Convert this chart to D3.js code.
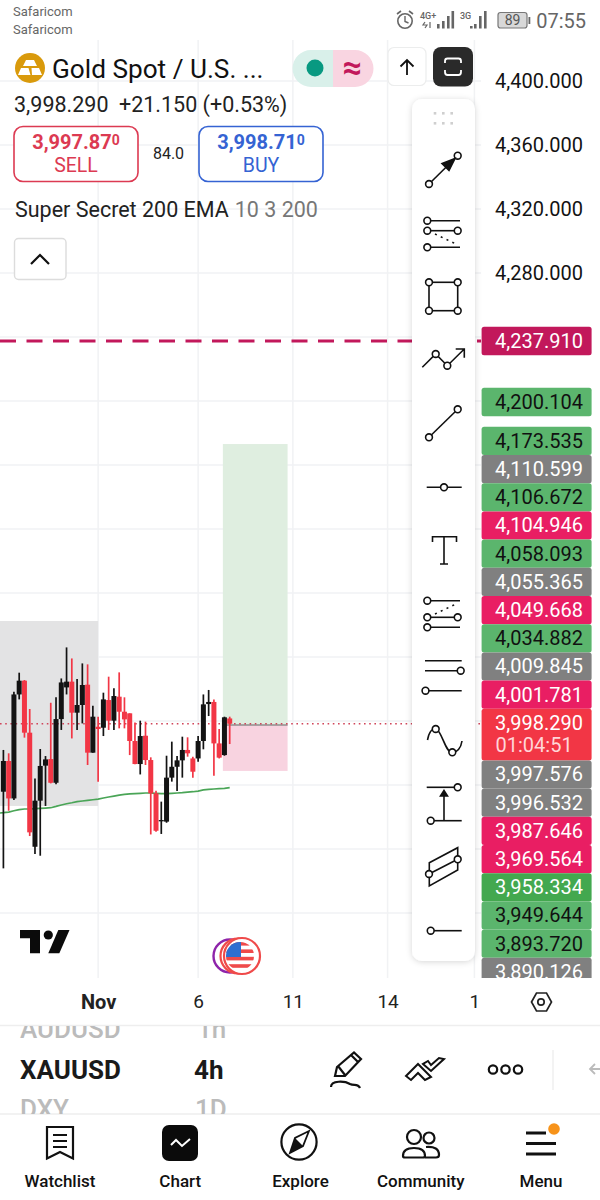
<!DOCTYPE html>
<html>
<head>
<meta charset="utf-8">
<script src="https://cdnjs.cloudflare.com/ajax/libs/d3/7.8.5/d3.min.js"></script>
<style>
html, body { margin: 0; padding: 0; background: #fff; }
svg { display: block; font-family: Roboto, sans-serif; }
</style>
</head>
<body>
<svg id="chart" width="600" height="1200"></svg>
<script>
// candles
var candleOpen = [3955.8,3975.0,3951.6,4016.6,4025.2,3992.7,3921.4,3950.2,3972.1,3976.2,3961.4,4001.2,4021.0,4024.6,4005.2,4010.0,4022.7,3980.2,3996.4,3995.8,4013.1,4000.2,4015.2,4005.8,4004.8,3987.5,3973.1,3990.8,3975.6,3954.8,3937.3,3937.1,3964.6,3971.4,3975.4,3981.9,3976.6,3976.6,3987.5,4010.6,4011.9,3986.0,3978.7,4001.6];
var candleHigh = [3981.9,3979.8,4018.3,4030.2,4025.6,4007.5,3964.1,3982.5,3978.1,4011.4,4014.8,4026.6,4046.0,4039.1,4026.2,4036.0,4035.4,4009.6,4002.7,4017.7,4027.7,4020.4,4030.4,4014.8,4004.8,3999.1,4000.2,3999.6,3977.3,3956.4,3949.6,3978.3,3987.1,3978.1,3990.2,3989.8,3977.7,3990.6,4016.6,4019.4,4013.5,3995.0,4002.7,4002.7];
var candleLow = [3907.9,3943.9,3950.6,4013.5,3989.6,3928.1,3916.9,3915.8,3946.9,3961.0,3960.4,3994.4,4016.6,3989.1,3994.4,3998.5,3972.5,3980.2,3962.1,3990.6,3994.4,3994.4,3995.4,3995.4,3978.7,3972.9,3966.6,3972.5,3929.1,3930.8,3929.4,3936.4,3962.1,3956.2,3964.6,3977.7,3964.6,3974.6,3982.3,4003.1,3965.8,3976.6,3978.3,3985.6];
var candleClose = [3975.0,3951.6,4016.6,4025.2,3992.7,3930.4,3950.2,3971.9,3976.0,3961.4,4001.2,4024.1,4024.6,4005.2,4010.0,4022.5,3980.2,4002.7,3995.0,4013.5,4000.2,4015.6,4005.8,4001.0,3987.5,3973.1,3990.6,3975.6,3954.8,3931.4,3938.1,3964.6,3971.4,3975.4,3981.9,3979.8,3968.3,3987.5,4010.4,4011.9,3986.0,3977.1,4002.3,3998.29];
// first value sits one bar left of the first candle
var emaValues = [3942.4,3942.7,3943.1,3943.9,3944.6,3945.0,3945.0,3945.2,3945.4,3945.6,3945.8,3946.6,3947.5,3948.3,3948.9,3949.6,3950.0,3950.4,3950.8,3951.2,3951.9,3952.5,3953.1,3953.7,3954.1,3954.4,3954.6,3954.8,3955.0,3955.0,3954.8,3954.6,3954.6,3954.8,3955.0,3955.2,3955.6,3955.8,3956.2,3956.9,3957.3,3957.5,3957.7,3957.9,3958.334];

var priceTicks = [4400, 4360, 4320, 4280];
var gridPrices = [4400,4360,4320,4280,4240,4200,4160,4120,4080,4040,4000,3960,3920,3880];
var timeTicks = [18, 37, 55, 73, 89.5];
var timeLabels = ["Nov", "6", "11", "14", "1"];

var alertPrice = 4237.91;
var lastPrice = 3998.29;
var targetPrice = 4200.104;
var timerText = "01:04:51";

// stacked price labels below the target label, top to bottom
var badgeValues = [4173.535,4110.599,4106.672,4104.946,4058.093,4055.365,4049.668,4034.882,4009.845,4001.781,3998.29,3997.576,3996.532,3987.646,3969.564,3958.334,3949.644,3893.72,3890.126];
var badgeKinds = ["green","grey","green","pink","green","grey","pink","green","grey","pink","last","grey","grey","pink","pink","ema","green","green","grey"];

// drawn boxes on the chart
var grayBoxPrices = [4062.5, 3946.9];
var grayBoxTimes = [-2, 18];
var positionTimes = [41.7, 54];
var positionPrices = [4173.1, 3997.5, 3968.8];

var navLabels = ["Watchlist", "Chart", "Explore", "Community", "Menu"];

var svg = d3.select("#chart");
var fmt = d3.format(",.3f");
var ink = "#131313";

var y = d3.scaleLinear().domain([4400, 3880]).range([81, 913]);
var x = d3.scaleLinear().domain([0, 43]).range([3.4, 229.7]);

var badgeColor = {green: "#5bb56d", grey: "#808080", pink: "#e91e63", last: "#f23645", ema: "#43a84f"};
var badgeText = {green: "#111", grey: "#fff", pink: "#fff", last: "#fff", ema: "#fff"};

var defs = svg.append("defs");
defs.append("clipPath").attr("id", "plot").append("rect")
    .attr("x", 0).attr("y", 40).attr("width", 481).attr("height", 938);
defs.append("clipPath").attr("id", "scale").append("rect")
    .attr("x", 481).attr("y", 40).attr("width", 119).attr("height", 938);
defs.append("clipPath").attr("id", "prev").append("rect")
    .attr("x", 0).attr("y", 1026).attr("width", 300).attr("height", 14);
defs.append("clipPath").attr("id", "next").append("rect")
    .attr("x", 0).attr("y", 1099).attr("width", 300).attr("height", 15);
defs.append("clipPath").attr("id", "flag").append("circle")
    .attr("cx", 240).attr("cy", 956).attr("r", 14);
var shadow = defs.append("filter").attr("id", "shadow")
    .attr("x", "-30%").attr("y", "-5%").attr("width", "160%").attr("height", "110%");
shadow.append("feDropShadow").attr("dx", 0).attr("dy", 1).attr("stdDeviation", 3)
    .attr("flood-color", "#000").attr("flood-opacity", 0.16);

// plot area
var plot = svg.append("g").attr("clip-path", "url(#plot)");

plot.selectAll(".grid-h").data(gridPrices).enter().append("line")
    .attr("class", "grid-h")
    .attr("x1", 0).attr("x2", 481)
    .attr("y1", function (d) { return y(d); })
    .attr("y2", function (d) { return y(d); })
    .attr("stroke", "#f1f2f4").attr("stroke-width", 1.5);

plot.selectAll(".grid-v").data(timeTicks).enter().append("line")
    .attr("class", "grid-v")
    .attr("x1", function (d) { return x(d); })
    .attr("x2", function (d) { return x(d); })
    .attr("y1", 40).attr("y2", 978)
    .attr("stroke", "#f1f2f4").attr("stroke-width", 1.5);

plot.append("rect")
    .attr("x", x(grayBoxTimes[0]))
    .attr("y", y(grayBoxPrices[0]))
    .attr("width", x(grayBoxTimes[1]) - x(grayBoxTimes[0]))
    .attr("height", y(grayBoxPrices[1]) - y(grayBoxPrices[0]))
    .attr("fill", "#e3e3e4");

plot.append("rect")
    .attr("x", x(positionTimes[0]))
    .attr("y", y(positionPrices[0]))
    .attr("width", x(positionTimes[1]) - x(positionTimes[0]))
    .attr("height", y(positionPrices[1]) - y(positionPrices[0]))
    .attr("fill", "#dfeee0");

plot.append("rect")
    .attr("x", x(positionTimes[0]))
    .attr("y", y(positionPrices[1]))
    .attr("width", x(positionTimes[1]) - x(positionTimes[0]))
    .attr("height", y(positionPrices[2]) - y(positionPrices[1]))
    .attr("fill", "#f8d3e0");

plot.append("line")
    .attr("x1", x(positionTimes[0])).attr("x2", x(positionTimes[1]))
    .attr("y1", y(positionPrices[1])).attr("y2", y(positionPrices[1]))
    .attr("stroke", "#8f8f8f").attr("stroke-width", 1.5);

plot.append("line")
    .attr("x1", 0).attr("x2", 481)
    .attr("y1", y(lastPrice)).attr("y2", y(lastPrice))
    .attr("stroke", "#d0455a").attr("stroke-width", 1.4)
    .attr("stroke-dasharray", "1.6 3.6");

plot.append("line")
    .attr("x1", 0).attr("x2", 481)
    .attr("y1", y(alertPrice) + 0.7).attr("y2", y(alertPrice) + 0.7)
    .attr("stroke", "#c2185b").attr("stroke-width", 3)
    .attr("stroke-dasharray", "16 10.5");

plot.append("path")
    .datum(emaValues)
    .attr("fill", "none")
    .attr("stroke", "#4aa557")
    .attr("stroke-width", 1.7)
    .attr("d", d3.line()
        .x(function (d, i) { return x(i - 1); })
        .y(function (d) { return y(d); }));

var candles = plot.selectAll(".candle").data(candleOpen).enter().append("g").attr("class", "candle");

function candleColor(d, i) {
    return candleClose[i] >= d ? ink : "#f23645";
}

candles.append("line")
    .attr("x1", function (d, i) { return x(i); })
    .attr("x2", function (d, i) { return x(i); })
    .attr("y1", function (d, i) { return y(candleHigh[i]); })
    .attr("y2", function (d, i) { return y(candleLow[i]); })
    .attr("stroke", candleColor)
    .attr("stroke-width", 1.7);

candles.append("rect")
    .attr("x", function (d, i) { return x(i) - 2.5; })
    .attr("width", 5)
    .attr("y", function (d, i) { return y(Math.max(d, candleClose[i])); })
    .attr("height", function (d, i) { return Math.max(1.3, Math.abs(y(d) - y(candleClose[i]))); })
    .attr("fill", candleColor);

// TradingView mark and news flag
var logo = svg.append("g").attr("fill", "#0b0b0b");
logo.append("path").attr("d", "M20 930H40V953.3H30V938.3H20Z");
logo.append("circle").attr("cx", 48.3).attr("cy", 935).attr("r", 4.6);
logo.append("path").attr("d", "M58.3 930H69.5L59.3 953.3H48.3Z");

svg.append("circle").attr("cx", 230).attr("cy", 956).attr("r", 16.5).attr("fill", "#fff").attr("stroke", "#8e24aa").attr("stroke-width", 2.4);
svg.append("circle").attr("cx", 238).attr("cy", 956).attr("r", 17.5).attr("fill", "#fff").attr("stroke", "#ef4a4a").attr("stroke-width", 2.2);
svg.append("circle").attr("cx", 242).attr("cy", 956).attr("r", 18).attr("fill", "#fff").attr("stroke", "#ef4a4a").attr("stroke-width", 2.2);
var flag = svg.append("g").attr("clip-path", "url(#flag)");
flag.append("rect").attr("x", 226).attr("y", 942).attr("width", 28).attr("height", 28).attr("fill", "#fff");
flag.selectAll(".stripe").data([0, 1, 2, 3]).enter().append("rect")
    .attr("x", 226).attr("width", 28).attr("height", 3.6)
    .attr("y", function (d) { return 942 + d * 7.4; })
    .attr("fill", "#ef4a4a");
flag.append("rect").attr("x", 226).attr("y", 942).attr("width", 15).attr("height", 15).attr("fill", "#2f6fd0");

// price scale
svg.append("g")
    .attr("transform", "translate(481,0)")
    .call(d3.axisRight(y).tickValues(priceTicks).tickFormat(fmt).tickSize(0).tickPadding(14))
    .call(function (g) { g.select(".domain").remove(); })
    .selectAll("text")
    .attr("font-family", "Roboto, sans-serif")
    .attr("font-size", 20)
    .attr("fill", ink);

var priceScale = svg.append("g").attr("clip-path", "url(#scale)");

function badge(top, h, fill, label, color) {
    priceScale.append("rect")
        .attr("x", 481.6).attr("y", top).attr("width", 110).attr("height", h)
        .attr("rx", 2.5).attr("fill", fill);
    priceScale.append("text")
        .attr("x", 583).attr("y", top + 21)
        .attr("text-anchor", "end").attr("font-size", 20)
        .attr("fill", color).text(label);
}

badge(y(alertPrice) - 13.5, 28.5, "#c2185b", fmt(alertPrice), "#fff");
badge(y(targetPrice) - 13, 28.5, "#5bb56d", fmt(targetPrice), "#111");

var badgeTop = 426.8;
badgeValues.forEach(function (v, i) {
    var kind = badgeKinds[i];
    var h = kind === "last" ? 51.6 : 28.2;
    badge(badgeTop, h, badgeColor[kind], fmt(v), badgeText[kind]);
    if (kind === "last") {
        priceScale.append("text")
            .attr("x", 495.5).attr("y", badgeTop + 43)
            .attr("font-size", 20)
            .attr("fill", "#ffd5d8").text(timerText);
    }
    badgeTop += h;
});

// time axis
svg.append("g")
    .attr("transform", "translate(0,990)")
    .call(d3.axisBottom(x).tickValues(timeTicks).tickSize(0).tickPadding(5)
        .tickFormat(function (d, i) { return timeLabels[i]; }))
    .call(function (g) { g.select(".domain").remove(); })
    .selectAll("text")
    .attr("font-family", "Roboto, sans-serif")
    .attr("font-size", function (d, i) { return i === 0 ? 20 : 19; })
    .attr("font-weight", function (d, i) { return i === 0 ? 700 : 400; })
    .attr("fill", "#222");

svg.append("path")
    .attr("d", "M531.5 1002L536.5 993H546.5L551.5 1002L546.5 1011H536.5Z")
    .attr("fill", "none").attr("stroke", "#222").attr("stroke-width", 1.7);
svg.append("circle").attr("cx", 541).attr("cy", 1002).attr("r", 3.2)
    .attr("fill", "none").attr("stroke", "#222").attr("stroke-width", 1.7);

// drawing tools panel
svg.append("rect")
    .attr("x", 412).attr("y", 99).attr("width", 63).attr("height", 862)
    .attr("rx", 10).attr("fill", "#fff").attr("filter", "url(#shadow)");

var tools = svg.append("g")
    .attr("fill", "none").attr("stroke", "#111").attr("stroke-width", 1.6);

function seg(x1, y1, x2, y2) {
    return tools.append("line").attr("x1", x1).attr("y1", y1).attr("x2", x2).attr("y2", y2);
}
function ring(cx, cy) {
    tools.append("circle").attr("cx", cx).attr("cy", cy).attr("r", 3.4).attr("fill", "#fff");
}
function dotted(x1, y1, x2, y2) {
    seg(x1, y1, x2, y2).attr("stroke-dasharray", "2 4.4");
}

[435, 443.3, 451.7].forEach(function (dx) {
    [113.3, 123.3].forEach(function (dy) {
        svg.append("rect").attr("x", dx - 1.3).attr("y", dy - 1.3).attr("width", 2.6).attr("height", 2.6).attr("fill", "#cfcfcf");
    });
});

seg(429, 184, 457.7, 155.7); ring(429, 184); ring(457.7, 155.7);
tools.append("path").attr("d", "M455 158.5L442 163.5L449 170.5Z").attr("fill", "#111");

seg(427, 220.7, 460, 220.7); seg(427, 230.7, 457.7, 230.7); seg(427, 247.3, 460, 247.3);
dotted(435, 234, 458, 245);
ring(427.3, 220.7); ring(427.3, 230.7); ring(457.7, 230.7); ring(427.3, 247.3);

tools.append("rect").attr("x", 429).attr("y", 282.3).attr("width", 28.7).attr("height", 28.4);
ring(429, 282.3); ring(457.7, 282.3); ring(429, 310.7); ring(457.7, 310.7);

tools.append("path").attr("d", "M422.3 367.3L435.7 354L447.3 365.7L464.3 349M455.7 349H464.3V357.7");
ring(435.7, 354); ring(447.3, 365.7);

seg(429, 437.3, 457.7, 409.3); ring(429, 437.3); ring(457.7, 409.3);

seg(426.7, 487.3, 461.7, 487.3); ring(444, 487.3);

tools.append("path").attr("d", "M432.5 542V536.7H456.5V542M444 536.7V564M440 564H448");

seg(427, 600.7, 460, 600.7); seg(427, 617.3, 457.7, 617.3); seg(427, 627.3, 460, 627.3);
dotted(435, 614, 458, 603);
ring(427.3, 600.7); ring(427.3, 617.3); ring(457.7, 617.3); ring(427.3, 627.3);

seg(425, 660.7, 461.7, 660.7); seg(425, 670.7, 460, 670.7); seg(425, 690.7, 461.7, 690.7);
ring(460.7, 670.7); ring(425.5, 690.7);

tools.append("path").attr("d", "M427.5 740C429 732 432 728 436 729C442 731 445 752 452 752.5C457 753 461 748 462 741");
ring(435.7, 729); ring(452.3, 752.3);

seg(426.7, 787.3, 457.7, 787.3); seg(430.7, 820.7, 461.7, 820.7); seg(444, 820.7, 444, 794);
tools.append("path").attr("d", "M444 790.5L440.5 796H447.5Z").attr("fill", "#111");
ring(457.7, 787.3); ring(430.7, 820.7);

tools.append("path").attr("d", "M429.3 862.7L457.7 847.7V870L429.3 886Z");
seg(429, 874, 457.7, 859.3);
ring(429, 874); ring(457.7, 859.3);

seg(430.7, 930.7, 461.7, 930.7); ring(430.7, 930.7);

// status bar
svg.append("text").attr("x", 13).attr("y", 16).attr("font-size", 13).attr("fill", "#666").text("Safaricom");
svg.append("text").attr("x", 13).attr("y", 34).attr("font-size", 13).attr("fill", "#666").text("Safaricom");

var statusBar = svg.append("g").attr("fill", "#666").attr("stroke", "none");
statusBar.append("circle").attr("cx", 405).attr("cy", 21).attr("r", 7.2).attr("fill", "none").attr("stroke", "#666").attr("stroke-width", 1.6);
statusBar.append("path").attr("d", "M405 16V21.5L408.5 23").attr("fill", "none").attr("stroke", "#666").attr("stroke-width", 1.4);
statusBar.append("path").attr("d", "M397 14L401 11M409 11L413 14").attr("fill", "none").attr("stroke", "#666").attr("stroke-width", 1.6);
statusBar.append("text").attr("x", 420).attr("y", 19).attr("font-size", 9).attr("font-weight", 500).text("4G+");
statusBar.append("path").attr("d", "M425 22L423 25H427L425 28M430 22V28").attr("fill", "none").attr("stroke", "#666").attr("stroke-width", 1.2);
statusBar.append("text").attr("x", 460).attr("y", 19).attr("font-size", 9).attr("font-weight", 500).text("3G");
[[437, 24], [442, 21], [447, 16], [451.5, 11]].forEach(function (b) {
    statusBar.append("rect").attr("x", b[0]).attr("y", b[1]).attr("width", 2.6).attr("height", 28.5 - b[1]);
});
[[470, 26], [474, 24], [479, 16], [484, 11]].forEach(function (b) {
    statusBar.append("rect").attr("x", b[0]).attr("y", b[1]).attr("width", 2.6).attr("height", 28.5 - b[1]);
});
statusBar.append("rect").attr("x", 498).attr("y", 12.5).attr("width", 29).attr("height", 15.5).attr("rx", 2.5)
    .attr("fill", "#d8d8d8").attr("stroke", "#777").attr("stroke-width", 1.2);
statusBar.append("rect").attr("x", 528.5).attr("y", 17).attr("width", 1.8).attr("height", 7);
statusBar.append("text").attr("x", 512.5).attr("y", 25).attr("text-anchor", "middle").attr("font-size", 14).attr("fill", "#555").text("89");
statusBar.append("text").attr("x", 586).attr("y", 28).attr("text-anchor", "end").attr("font-size", 20).attr("fill", "#666").text("07:55");

// symbol header
svg.append("circle").attr("cx", 30).attr("cy", 68).attr("r", 15).attr("fill", "#d99a0c");
svg.append("path").attr("fill", "#fff")
    .attr("d", "M26 60H34L37 66H23ZM18 75L21 68H28.5L30.5 75ZM32 75L31.5 68H39L42 75Z");

svg.append("text").attr("x", 52).attr("y", 78).attr("font-size", 26.2).attr("fill", "#111").text("Gold Spot / U.S. ...");
svg.append("text").attr("x", 14).attr("y", 112).attr("font-size", 21.5).attr("fill", "#222").text("3,998.290");
svg.append("text").attr("x", 119).attr("y", 112).attr("font-size", 21.5).attr("fill", "#222").text("+21.150 (+0.53%)");

svg.append("path").attr("d", "M333 50H311A18.5 18.5 0 0 0 311 87H333Z").attr("fill", "#d9f0ea");
svg.append("path").attr("d", "M333 50H355A18.5 18.5 0 0 1 355 87H333Z").attr("fill", "#f9d5e1");
svg.append("circle").attr("cx", 315).attr("cy", 68).attr("r", 8.5).attr("fill", "#089981");
svg.append("text").attr("x", 352).attr("y", 79).attr("text-anchor", "middle").attr("font-size", 34).attr("font-weight", 700).attr("fill", "#c2185b").text("≈");

svg.append("rect").attr("x", 388).attr("y", 47.5).attr("width", 38).attr("height", 38).attr("rx", 6)
    .attr("fill", "#fff").attr("stroke", "#eceded").attr("stroke-width", 1.2);
svg.append("path").attr("d", "M407 75V60M400.5 66.5L407 60L413.5 66.5").attr("fill", "none").attr("stroke", "#111").attr("stroke-width", 1.8);
svg.append("rect").attr("x", 433).attr("y", 47).attr("width", 40).attr("height", 39.5).attr("rx", 8).attr("fill", "#2a2a2a");
svg.append("path").attr("d", "M445 63V61Q445 58.5 447.5 58.5H458.5Q461 58.5 461 61V63M445 70V72Q445 75 447.5 75H458.5Q461 75 461 72V70")
    .attr("fill", "none").attr("stroke", "#fff").attr("stroke-width", 1.8);

function quote(bx, color, price, label) {
    svg.append("rect").attr("x", bx).attr("y", 126.5).attr("width", 124).attr("height", 55).attr("rx", 9)
        .attr("fill", "#fff").attr("stroke", color).attr("stroke-width", 1.6);
    var t = svg.append("text").attr("x", bx + 62).attr("y", 149).attr("text-anchor", "middle")
        .attr("font-size", 20).attr("font-weight", 700).attr("fill", color);
    t.append("tspan").text(price);
    t.append("tspan").attr("font-size", 14).attr("dy", -4).text("0");
    svg.append("text").attr("x", bx + 62).attr("y", 171.5).attr("text-anchor", "middle")
        .attr("font-size", 19.5).attr("fill", color).text(label);
}
quote(14, "#dc3a52", "3,997.87", "SELL");
quote(199, "#3563d3", "3,998.71", "BUY");
svg.append("text").attr("x", 168.5).attr("y", 158.5).attr("text-anchor", "middle").attr("font-size", 16).attr("fill", "#222").text("84.0");

var study = svg.append("text").attr("x", 15).attr("y", 217).attr("font-size", 21.5).attr("fill", "#222");
study.append("tspan").text("Super Secret 200 EMA");
study.append("tspan").attr("dx", 6).attr("fill", "#777").text("10 3 200");

svg.append("rect").attr("x", 14.5).attr("y", 238.5).attr("width", 51.5).attr("height", 41).attr("rx", 4)
    .attr("fill", "#fff").attr("stroke", "#dcdcdc").attr("stroke-width", 1.4);
svg.append("path").attr("d", "M31 264L40 255L49 264").attr("fill", "none").attr("stroke", "#111").attr("stroke-width", 2.2);

// symbol strip
svg.append("line").attr("x1", 0).attr("x2", 600).attr("y1", 1025.5).attr("y2", 1025.5).attr("stroke", "#eeeeee").attr("stroke-width", 1.4);
svg.append("line").attr("x1", 0).attr("x2", 600).attr("y1", 1114).attr("y2", 1114).attr("stroke", "#eeeeee").attr("stroke-width", 1.4);

svg.append("g").attr("clip-path", "url(#prev)").attr("fill", "#bbb").attr("font-size", 26).attr("font-weight", 500)
    .call(function (g) {
        g.append("text").attr("x", 20).attr("y", 1038).text("AUDUSD");
        g.append("text").attr("x", 197).attr("y", 1038).text("1h");
    });
svg.append("g").attr("clip-path", "url(#next)").attr("fill", "#bbb").attr("font-size", 26).attr("font-weight", 500)
    .call(function (g) {
        g.append("text").attr("x", 20).attr("y", 1118).text("DXY");
        g.append("text").attr("x", 195).attr("y", 1118).text("1D");
    });
svg.append("text").attr("x", 20).attr("y", 1079).attr("font-size", 26).attr("font-weight", 700).attr("fill", "#1a1a1a").text("XAUUSD");
svg.append("text").attr("x", 194).attr("y", 1079).attr("font-size", 26).attr("font-weight", 700).attr("fill", "#1a1a1a").text("4h");

var strip = svg.append("g").attr("fill", "none").attr("stroke", "#111").attr("stroke-width", 2.2);
strip.append("path").attr("d", "M335 1076L337 1067L354 1052.5L361 1059L345 1076ZM338 1066L345 1075M351 1055L358 1062");
strip.append("path").attr("d", "M331 1087C331 1080 345 1081 350 1084C354 1086 358 1083 360 1088");
strip.append("path").attr("d", "M406 1076L418 1064L431 1077L425 1080L418 1073L411 1080ZM423 1064L431 1071L444 1059L439 1058L431 1065L428 1061Z").attr("stroke-width", 2);
[493, 505.5, 518].forEach(function (c) {
    strip.append("circle").attr("cx", c).attr("cy", 1069.5).attr("r", 4.2);
});
svg.append("line").attr("x1", 553).attr("x2", 553).attr("y1", 1050).attr("y2", 1090).attr("stroke", "#eee").attr("stroke-width", 1.4);
svg.append("path").attr("d", "M600 1069H590M595 1064L590 1069L595 1074").attr("fill", "none").attr("stroke", "#bbb").attr("stroke-width", 1.8);

// bottom navigation
var nav = svg.append("g").attr("fill", "none").attr("stroke", "#111").attr("stroke-width", 2.2);
nav.append("path").attr("d", "M47 1127H73V1158.5L60 1152L47 1158.5Z");
nav.append("path").attr("d", "M53 1135H67M53 1141H67M53 1147H67");
svg.append("rect").attr("x", 162).attr("y", 1125).attr("width", 36).attr("height", 36).attr("rx", 7).attr("fill", "#0b0b0b");
svg.append("path").attr("d", "M171 1145L176 1140L182 1146L190 1139").attr("fill", "none").attr("stroke", "#fff").attr("stroke-width", 2);
nav.append("circle").attr("cx", 299).attr("cy", 1142).attr("r", 17.6);
nav.append("path").attr("d", "M309 1131L303 1146L290 1153L295 1138Z").attr("stroke-width", 1.8);
svg.append("path").attr("d", "M303 1146L290 1153L295 1138Z").attr("fill", "#111");
nav.append("circle").attr("cx", 414).attr("cy", 1137).attr("r", 7);
nav.append("circle").attr("cx", 429).attr("cy", 1138).attr("r", 5.5);
nav.append("path").attr("d", "M403 1156Q403 1148 414 1148Q425 1148 425 1156Q425 1157.5 423 1157.5H405Q403 1157.5 403 1156Z");
nav.append("path").attr("d", "M426 1147Q439 1146 439 1155Q439 1157.5 436 1157.5H425");
svg.append("rect").attr("x", 526).attr("y", 1131.5).attr("width", 20).attr("height", 3).attr("fill", "#111");
svg.append("rect").attr("x", 526).attr("y", 1142).attr("width", 30).attr("height", 3).attr("fill", "#111");
svg.append("rect").attr("x", 526).attr("y", 1152.5).attr("width", 30).attr("height", 3).attr("fill", "#111");
svg.append("circle").attr("cx", 554).attr("cy", 1129).attr("r", 5.8).attr("fill", "#f7931a");

var navX = d3.scalePoint().domain(navLabels).range([60, 541]);
svg.selectAll(".nav-label").data(navLabels).enter().append("text")
    .attr("class", "nav-label")
    .attr("x", function (d) { return navX(d); })
    .attr("y", 1187)
    .attr("text-anchor", "middle")
    .attr("font-size", 17)
    .attr("font-weight", 500)
    .attr("fill", "#111")
    .text(function (d) { return d; });
</script>
</body>
</html>
